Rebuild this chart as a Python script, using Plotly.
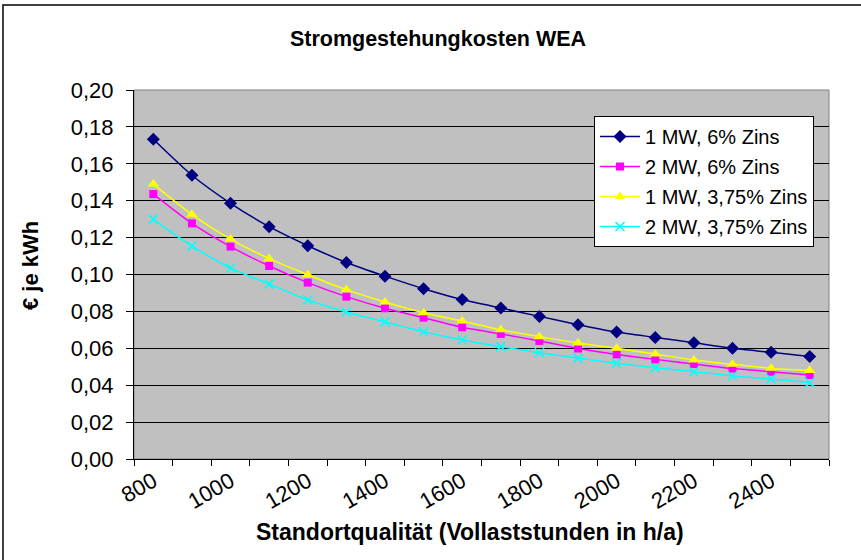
import plotly.graph_objects as go

# Full-load hours per year (site quality) and levelised electricity cost in EUR/kWh
hours = [800, 900, 1000, 1100, 1200, 1300, 1400, 1500, 1600,
         1700, 1800, 1900, 2000, 2100, 2200, 2300, 2400, 2500]

cost_1mw_6 = [0.1733, 0.1538, 0.1386, 0.1259, 0.1156, 0.1065, 0.0991, 0.0923, 0.0864,
              0.0818, 0.0773, 0.0728, 0.0688, 0.0659, 0.0630, 0.0600, 0.0578, 0.0555]
cost_2mw_6 = [0.1436, 0.1277, 0.1151, 0.1046, 0.0956, 0.0880, 0.0817, 0.0766, 0.0714,
              0.0678, 0.0640, 0.0599, 0.0567, 0.0540, 0.0515, 0.0490, 0.0473, 0.0455]
cost_1mw_375 = [0.1490, 0.1325, 0.1192, 0.1086, 0.0999, 0.0918, 0.0851, 0.0793, 0.0748,
                0.0700, 0.0663, 0.0629, 0.0600, 0.0569, 0.0537, 0.0513, 0.0492, 0.0479]
cost_2mw_375 = [0.1299, 0.1154, 0.1035, 0.0948, 0.0862, 0.0797, 0.0743, 0.0690, 0.0645,
                0.0609, 0.0576, 0.0547, 0.0519, 0.0495, 0.0473, 0.0450, 0.0434, 0.0414]

series_names = ["1 MW, 6% Zins", "2 MW, 6% Zins", "1 MW, 3,75% Zins", "2 MW, 3,75% Zins"]
x_tick_labels = [800, 1000, 1200, 1400, 1600, 1800, 2000, 2200, 2400]
y_ticks = [0.00, 0.02, 0.04, 0.06, 0.08, 0.10, 0.12, 0.14, 0.16, 0.18, 0.20]

FONT = "Liberation Sans, Arial, sans-serif"

styles = [
    dict(color="#000080", symbol="diamond", size=10, lw=0),
    dict(color="#FF00FF", symbol="square", size=8, lw=0),
    dict(color="#FFFF00", symbol="triangle-up", size=10, lw=0),
    dict(color="#00FFFF", symbol="x-thin", size=9, lw=1.6),
]

fig = go.Figure()
for i, (name, ys, st) in enumerate(zip(series_names,
                                      [cost_1mw_6, cost_2mw_6, cost_1mw_375, cost_2mw_375],
                                      styles)):
    fig.add_trace(go.Scatter(
        x=hours, y=ys, name=name, mode="lines+markers", legendgroup=f"g{i}",
        line=dict(color=st["color"], width=1.5, shape="spline", smoothing=0.6),
        marker=dict(symbol=st["symbol"], size=st["size"], color=st["color"],
                    line=dict(color=st["color"], width=st["lw"])),
    ))

# plot area: x 134..829 px, y 90..459 px
L, R, T, B = 134, 32, 90, 101
pw, ph = 861 - L - R, 560 - T - B

def px_x(p):
    return (p - L) / pw

def px_y(p):
    return (560 - B - p) / ph

fig.update_layout(
    width=861, height=560,
    margin=dict(l=L, r=R, t=T, b=B),
    paper_bgcolor="white",
    plot_bgcolor="#C0C0C0",
    separators=",.",
    font=dict(family=FONT, color="black", size=22),
    title=dict(text="<b>Stromgestehungkosten WEA</b>", x=438 / 861, xanchor="center",
               y=1 - 38 / 560, yanchor="middle", font=dict(size=21.5, family=FONT)),
    showlegend=True,
    legend=dict(x=px_x(594), y=px_y(116), xanchor="left", yanchor="top",
                bgcolor="white", bordercolor="black", borderwidth=1,
                font=dict(size=20, family=FONT), tracegroupgap=1,
                itemwidth=40),
    xaxis=dict(range=[750, 2550], tickmode="array", tickvals=x_tick_labels,
               ticktext=[str(v) for v in x_tick_labels], tickangle=-30,
               ticks="", showgrid=False, zeroline=False,
               showline=True, linecolor="black", linewidth=1,
               tickfont=dict(size=22, family=FONT),
               minor=dict(ticks="outside", tick0=750, dtick=100, ticklen=6,
                          tickcolor="black", tickwidth=1, showgrid=False)),
    yaxis=dict(range=[0, 0.2], tickmode="array", tickvals=y_ticks, tickformat=".2f",
               ticks="outside", ticklen=7, tickcolor="black", tickwidth=1,
               showgrid=True, gridcolor="black", gridwidth=1, zeroline=False,
               showline=True, linecolor="black", linewidth=1,
               ticklabelstandoff=8,
               tickfont=dict(size=22, family=FONT)),
    annotations=[
        dict(text="<b>Standortqualität (Vollaststunden in h/a)</b>", xref="paper", yref="paper",
             x=px_x(470), y=px_y(532), xanchor="center", yanchor="middle", showarrow=False,
             font=dict(size=23, family=FONT)),
        dict(text="<b>€ je kWh</b>", xref="paper", yref="paper", textangle=-90,
             x=px_x(30), y=px_y(266), xanchor="center", yanchor="middle", showarrow=False,
             font=dict(size=22, family=FONT)),
    ],
    shapes=[
        # plot area frame
        dict(type="rect", xref="paper", yref="paper", x0=0, x1=1, y0=0, y1=1,
             line=dict(color="#808080", width=1), layer="below"),
        # chart area frame
        dict(type="rect", xref="paper", yref="paper", x0=px_x(3), x1=px_x(866),
             y0=px_y(566), y1=px_y(5), line=dict(color="black", width=1.5)),
    ],
)

fig.write_html("out.html")
